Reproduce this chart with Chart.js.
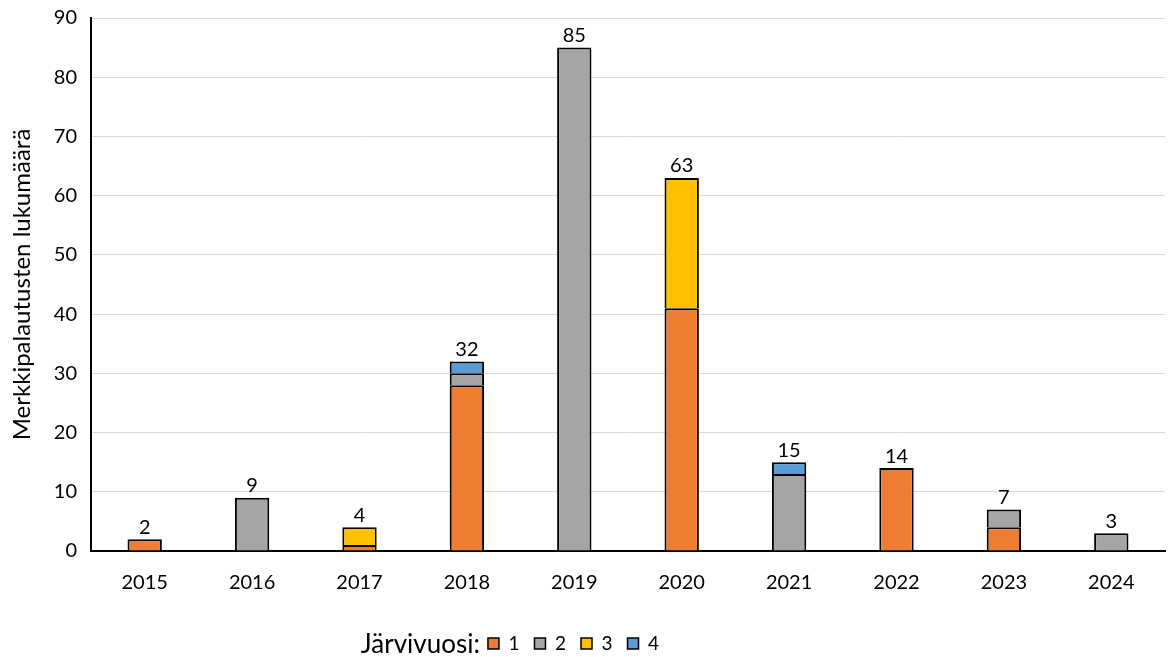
<!DOCTYPE html>
<html>
<head>
<meta charset="utf-8">
<script src="https://cdn.jsdelivr.net/npm/chart.js@4"></script>
<style>
  html, body { margin: 0; padding: 0; background: #fff; }
  #wrap { width: 1169px; height: 657px; position: relative; }
</style>
</head>
<body>
<div id="wrap"><canvas id="chart"></canvas></div>
<script>
// vuodet ja järvivuosien merkkipalautukset
const years = ['2015', '2016', '2017', '2018', '2019', '2020', '2021', '2022', '2023', '2024'];
const lakeYear1 = [2, null, 1, 28, null, 41, null, 14, 4, null];
const lakeYear2 = [null, 9, null, 2, 85, null, 13, null, 3, 3];
const lakeYear3 = [null, null, 3, null, null, 22, null, null, null, null];
const lakeYear4 = [null, null, null, 2, null, null, 2, null, null, null];
const seriesNames = ['1', '2', '3', '4'];
const seriesColors = ['#ED7D31', '#A5A5A5', '#FFC000', '#5B9BD5'];

const FONT = 'Lato, "Open Sans", sans-serif';

// summat pinojen yläpuolelle
const totalsPlugin = {
  id: 'totals',
  afterDatasetsDraw(chart) {
    const ctx = chart.ctx;
    const yScale = chart.scales.y;
    const meta = chart.getDatasetMeta(0);
    ctx.save();
    ctx.font = '20px ' + FONT;
    ctx.fillStyle = '#000';
    ctx.textAlign = 'center';
    ctx.textBaseline = 'bottom';
    years.forEach((y, i) => {
      let total = 0;
      chart.data.datasets.forEach(ds => { total += ds.data[i] || 0; });
      const x = meta.data[i].x;
      ctx.fillText(String(total), x, yScale.getPixelForValue(total) - 2);
    });
    ctx.restore();
  }
};

// legendan otsikko vasemmalle + siirto
const legendTitlePlugin = {
  id: 'legendTitle',
  afterLayout(chart) {
    chart.legend.left -= 9;
    chart.legend.right -= 9;
  },
  afterDraw(chart) {
    const boxes = chart.legend.legendHitBoxes;
    if (!boxes || !boxes.length) return;
    const b = boxes[0];
    const ctx = chart.ctx;
    ctx.save();
    ctx.font = '26px ' + FONT;
    ctx.fillStyle = '#000';
    ctx.textAlign = 'right';
    ctx.textBaseline = 'middle';
    ctx.fillText('Järvivuosi:', b.left - 8, b.top + b.height / 2 + 1);
    ctx.restore();
  }
};

// alareuna jätetään pois, niin pinojen saumat jäävät yhdeksi viivaksi
const datasets = [lakeYear1, lakeYear2, lakeYear3, lakeYear4].map((d, i) => ({
  label: seriesNames[i],
  data: d,
  backgroundColor: seriesColors[i],
  borderColor: '#000',
  borderWidth: { top: 2, left: 2, right: 2, bottom: 0 },
  borderSkipped: false,
  barPercentage: 0.32,
  categoryPercentage: 1
}));

new Chart(document.getElementById('chart'), {
  type: 'bar',
  data: { labels: years, datasets: datasets },
  options: {
    responsive: true,
    maintainAspectRatio: false,
    animation: false,
    layout: { padding: { top: 18, right: 4, left: 0, bottom: 0 } },
    plugins: {
      tooltip: { enabled: false },
      legend: {
        position: 'bottom',
        maxHeight: 38,
        labels: {
          color: '#000',
          font: { family: FONT, size: 19 },
          boxWidth: 11,
          boxHeight: 11,
          padding: 15,
          generateLabels(chart) {
            return chart.data.datasets.map((ds, i) => ({
              text: ds.label,
              fillStyle: ds.backgroundColor,
              strokeStyle: '#000',
              lineWidth: 1.5,
              fontColor: '#000',
              datasetIndex: i
            }));
          }
        }
      }
    },
    scales: {
      x: {
        stacked: true,
        grid: { display: false },
        border: { color: '#000', width: 2 },
        ticks: { color: '#000', font: { family: FONT, size: 20 }, padding: 12 },
        afterFit(scale) { scale.height = 68; }
      },
      y: {
        stacked: true,
        min: 0,
        max: 90,
        ticks: { stepSize: 10, color: '#000', font: { family: FONT, size: 20 }, padding: 14 },
        grid: { color: '#d9d9d9', lineWidth: 1, drawTicks: false },
        border: { color: '#000', width: 2 },
        title: {
          display: true,
          text: 'Merkkipalautusten lukumäärä',
          color: '#000',
          font: { family: FONT, size: 24 },
          padding: { top: 8, bottom: 4 }
        },
        afterFit(scale) {
          scale.width = 91;
          scale.paddingTop = 0;
          scale.paddingBottom = 0;
        }
      }
    }
  },
  plugins: [totalsPlugin, legendTitlePlugin]
});
</script>
</body>
</html>
